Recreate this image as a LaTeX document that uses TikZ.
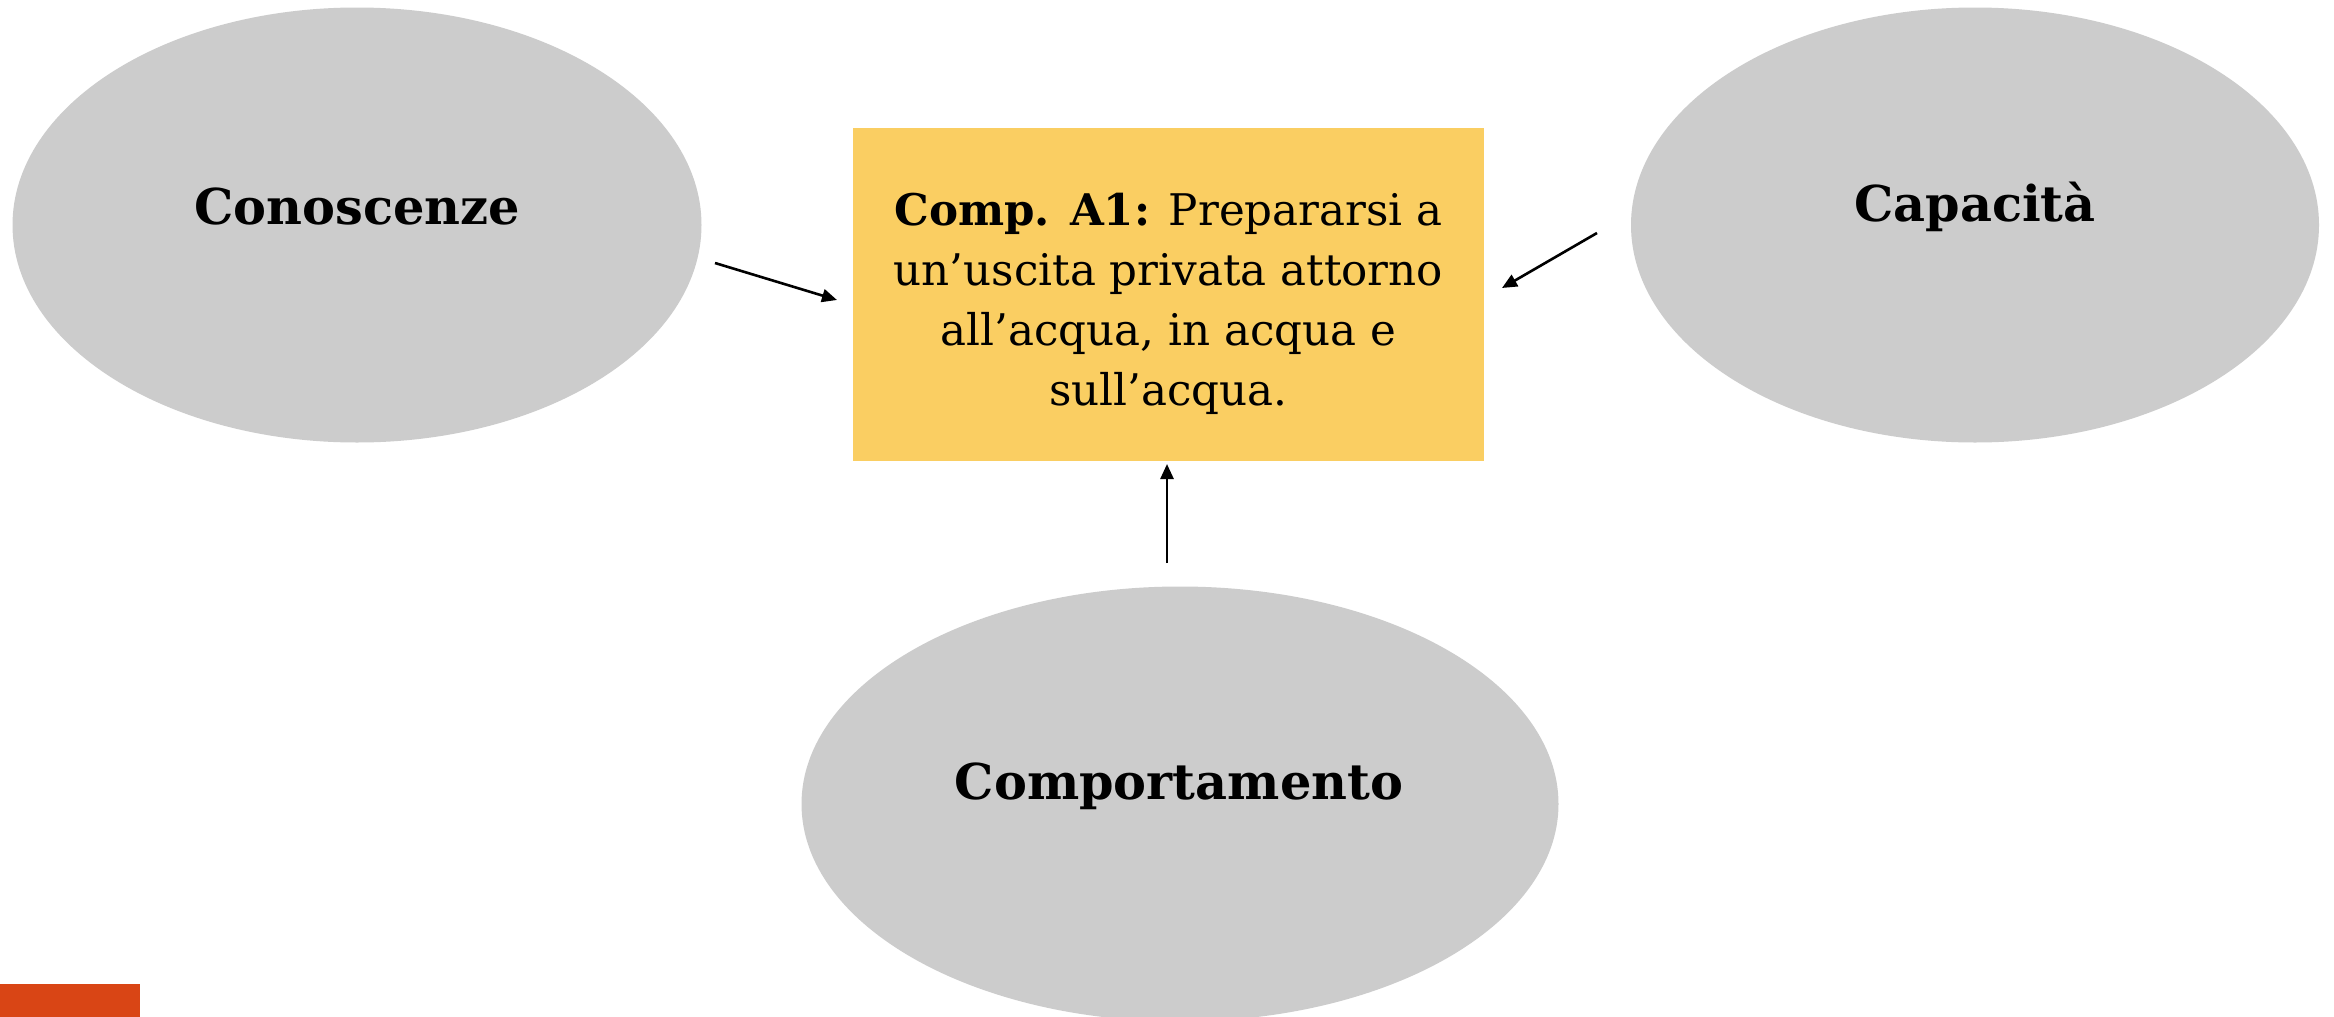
\documentclass[tikz,border=0pt]{standalone}
\usepackage{fontspec}
\setmainfont{DejaVu Serif}
\usetikzlibrary{shapes.geometric,arrows.meta}
\definecolor{ellgray}{HTML}{CCCCCC}
\definecolor{boxyellow}{HTML}{FACE62}
\definecolor{barorange}{HTML}{D94515}
\tikzset{
  ell/.style={ellipse,fill=ellgray,draw=none,inner sep=0pt},
  elltext/.style={font=\fontsize{24.7}{30}\selectfont\bfseries,inner sep=0pt},
  compbox/.style={rectangle,fill=boxyellow,draw=none,inner sep=0pt},
  comptext/.style={inner sep=0pt,align=center,font=\fontsize{21.8}{30}\selectfont},
  arr/.style={-{Triangle[length=7.5pt,width=6.5pt]},line width=1.3pt,black}
}
\begin{document}
\begin{tikzpicture}[x=0.5pt,y=-0.5pt]
\useasboundingbox (0,0) rectangle (2334,1017);
\fill[white] (0,0) rectangle (2334,1017);
% ellipses
\node[ell,minimum width=344.5pt,minimum height=217.5pt] (cono) at (357,225) {};
\node[elltext] (conot) at (357,207) {Conoscenze};
\node[ell,minimum width=344pt,minimum height=217.5pt] (capa) at (1975,225) {};
\node[elltext] (capat) at (1975,207) {Capacità};
\node[ell,minimum width=378.5pt,minimum height=217.5pt] (comp) at (1180,804) {};
\node[elltext] (compt) at (1179,786) {Comportamento};
% central box
\node[compbox,minimum width=315.5pt,minimum height=166.5pt] (box) at (1168.5,294.5) {};
\node[comptext] (boxt) at (1168.5,304)
  {\textbf{Comp. A1:} Prepararsi a\\un’uscita privata attorno\\all’acqua, in acqua e\\sull’acqua.};
% orange bar
\fill[barorange] (0,984) rectangle (140,1017);
% arrow coordinates
\coordinate (a1s) at (715,263);
\coordinate (a1e) at (837,300);
\coordinate (a2s) at (1597,233);
\coordinate (a2e) at (1502,288);
\coordinate (a3s) at (1167,563);
\coordinate (a3e) at (1167,464);
\draw[arr] (a1s) -- (a1e);
\draw[arr] (a2s) -- (a2e);
\draw[arr] (a3s) -- (a3e);
\end{tikzpicture}
\end{document}
